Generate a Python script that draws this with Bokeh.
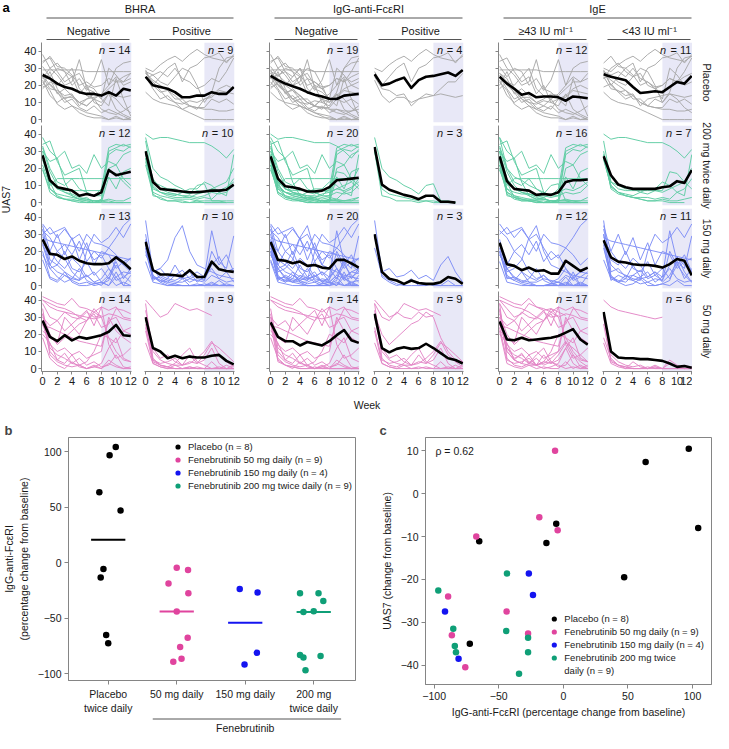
import math
import numpy as np
from bokeh.plotting import figure
from bokeh.layouts import row, column
from bokeh.models import (Range1d, LinearAxis, FixedTicker, BoxAnnotation, Label,
                          Legend, LegendItem)
from bokeh.core.properties import value
from bokeh.embed import file_html
from bokeh.resources import INLINE

NaN = float("nan")
FONT = "Liberation Sans"

# ---------------------------------------------------------------- data, panel a
weeks = list(range(13))
arm_names = ["Placebo", "200 mg twice daily", "150 mg daily", "50 mg daily"]
group_names = ["BHRA", "IgG-anti-FcεRI", "IgE"]
subgroup_names = ["Negative", "Positive", "Negative", "Positive", "≥43 IU ml⁻¹", "<43 IU ml⁻¹"]
subgroup_keys = ["N", "P", "N", "P", "H", "L"]   # membership letter per column
n_counts = [[14, 9, 19, 4, 12, 11],
            [12, 10, 20, 3, 16, 7],
            [13, 10, 20, 3, 12, 11],
            [14, 9, 14, 9, 17, 6]]

# membership: BHRA (N/P/-), IgG-anti-FceRI (N/P), IgE (H = >=43, L = <43); weekly UAS7 wk 0..12
placebo_patients = [
    ("PPL", [30, 28, 32, 35, 37, 34, 38, 41, 38, 36, 35, 34, 37]),
    ("PPL", [28, 20, 25, 30, 33, 22, 30, 32, 36, 37, 39, 33, 38]),
    ("NPL", [25, 18, 17, 14, 15, 8, 12, 13, 14, 15, 14, 13, 14]),
    ("NPH", [23, 14, 10, 13, 13, 10, 12, 15, 14, 18, 22, 22, 27]),
    ("NNH", [29, 29, 29, 29, 29, 29, 28, 28, 28, 28, 28, 28, 28]),
    ("NNH", [38, 30, 26, 20, 22, 35, 18, 16, 12, 8, 24, 12, 2]),
    ("NNH", [34, 36, 28, 22, 25, 15, 20, 10, 8, 15, 6, 3, 1]),
    ("NNH", [20, 28, 18, 12, 8, 6, 4, 3, 2, 0, 2, 0, 0]),
    ("NNH", [22, 17, 9, 6, 8, 4, 2, 1, 1, 0, 1, 0, 1]),
    ("NNH", [31, 25, 30, 28, 20, 24, 17, 23, 35, 20, 30, 33, 34]),
    ("NNH", [18, 22, 20, 25, 30, 18, 14, 12, 15, 20, 25, 22, 24]),
    ("NNH", [27, 24, 15, 18, 14, 10, 8, 12, 6, 4, 3, 5, 8]),
    ("NNL", [33, 37, 31, 30, 26, 20, 22, 19, 20, 24, 22, 25, 27]),
    ("NNH", [26, 20, 16, 10, 12, 7, 5, 8, 4, 6, 4, 2, 0]),
    ("NNL", [24, 30, 33, 28, 25, 27, 20, 18, 12, 30, 26, 20, 22]),
    ("NNL", [19, 21, 16, 12, 14, 10, 8, 12, 10, 15, 12, 7, 4]),
    ("PNL", [28, 26, 22, 20, 25, 30, 28, 20, 10, 16, 30, 36, 37]),
    ("PNL", [27, 23, 20, 17, 14, 10, 8, 7, 6, 6, 5, 5, 6]),
    ("PNL", [16, 12, 10, 9, 8, 6, 4, 2, 0, 0, 0, 0, 0]),
    ("PNL", [24, 26, 28, 25, 30, 24, 22, 18, 20, 24, 22, 28, 36]),
    ("PNH", [27, 22, 17, 12, 10, 9, 11, 10, 12, 14, 18, 20, 18]),
    ("PNL", [29, 20, 16, 17, 12, 12, 8, 7, 7, 12, 10, 12, 9]),
    ("PNH", [25, 18, 12, 14, 10, 6, 8, 6, 12, 13, 17, 16, 15]),
]
bid200_patients = [
    ("PNL", [40, 37, 38, 38, 37, 36, 35, 35, 35, 33, 30, 26, 31]),
    ("PPH", [38, 20, 15, 13, 10, 8, 5, 10, 11, 1, 1, 0, NaN]),
    ("NPL", [30, 8, 5, 4, 3, 2, 1, 1, 1, 0, 0, 0, NaN]),
    ("PPH", [30, 4, 3, 1, 1, 1, 0, 1, 0, 0, 0, 0, NaN]),
    ("NNH", [27, 14, 8, 6, 4, 2, 3, 0, 2, 28, 31, 30, 33]),
    ("NNH", [33, 20, 12, 10, 14, 8, 6, 4, 8, 32, 34, 33, 34]),
    ("NNH", [25, 12, 3, 2, 1, 0, 0, 0, 0, 15, 8, 18, 20]),
    ("NNH", [38, 30, 26, 30, 20, 22, 17, 28, 20, 24, 22, 14, 10]),
    ("NNH", [22, 10, 14, 14, 14, 14, 14, 14, 14, 14, 14, 14, 14]),
    ("NNL", [28, 12, 8, 7, 7, 7, 7, 7, 7, 18, 17, 12, 8]),
    ("NNH", [20, 6, 3, 2, 1, 1, 0, 0, 0, 0, 0, 0, 0]),
    ("NNH", [32, 18, 10, 6, 5, 3, 2, 1, 1, 2, 1, 1, 3]),
    ("NNH", [19, 8, 4, 2, 2, 1, 1, 0, 1, 1, 0, 0, 0]),
    ("PNH", [26, 8, 6, 5, 5, 4, 4, 3, 4, 6, 5, 6, 10]),
    ("PNL", [28, 10, 6, 5, 4, 6, 8, 8, 12, 10, 6, 8, 14]),
    ("PNH", [24, 6, 4, 3, 2, 2, 2, 1, 1, 1, 1, 1, 1]),
    ("PNH", [30, 14, 8, 6, 5, 4, 3, 5, 6, 8, 7, 9, 12]),
    ("PNL", [36, 12, 10, 8, 8, 6, 5, 7, 6, 8, 10, 12, 20]),
    ("PNH", [22, 5, 2, 1, 1, 0, 0, 0, 0, 0, 0, 0, 0]),
    ("PNL", [26, 9, 6, 4, 3, 3, 3, 2, 3, 2, 6, 4, 28]),
    ("NNH", [34, 36, 24, 16, 18, 20, 6, 4, 4, 30, 32, 34, 32]),
    ("NNH", [30, 24, 26, 12, 4, 2, 2, 1, 1, 20, 22, 28, 30]),
    ("-NL", [25, 10, 6, 4, 3, 2, 1, 1, 2, 1, 1, 2, 3]),
]
qd150_patients = [
    ("PPL", [38, 8, 10, 5, 6, 9, 4, 6, 3, 12, 17, 8, 2]),
    ("PPH", [22, 6, 3, 1, 0, 0, 0, 1, 0, 0, 0, 0, 0]),
    ("PPL", [30, 5, 2, 0, 1, 4, 0, 0, 1, 0, 3, 0, 0]),
    ("NNH", [36, 30, 32, 34, 27, 20, 30, 25, 24, 22, 28, 35, 39]),
    ("NNH", [30, 34, 28, 33, 27, 30, 22, 15, 18, 10, 5, 8, 7]),
    ("NNL", [26, 20, 30, 18, 28, 15, 25, 12, 20, 18, 10, 14, 16]),
    ("NNH", [24, 10, 5, 2, 4, 10, 3, 1, 2, 0, 8, 0, 6]),
    ("NNL", [33, 15, 12, 20, 10, 8, 14, 6, 10, 4, 12, 6, 2]),
    ("NNH", [20, 5, 3, 8, 2, 0, 0, 1, 2, 0, 5, 0, 0]),
    ("NNL", [28, 26, 25, 24, 23, 22, 21, 20, 19, 18, 17, 16, 15]),
    ("NNH", [18, 10, 12, 8, 5, 3, 6, 2, 4, 10, 3, 5, 8]),
    ("NNL", [35, 20, 14, 10, 16, 12, 5, 8, 2, 6, 14, 4, 10]),
    ("NNH", [25, 12, 20, 16, 8, 4, 6, 2, 0, 5, 0, 2, 0]),
    ("NNL", [15, 4, 2, 6, 3, 1, 2, 0, 1, 3, 16, 12, 8]),
    ("PNH", [27, 8, 10, 15, 28, 35, 20, 12, 10, 8, 6, 5, 4]),
    ("PNL", [24, 3, 6, 4, 12, 5, 8, 2, 5, 32, 14, 10, 29]),
    ("PNH", [18, 10, 4, 2, 1, 0, 0, 0, 0, 2, 0, 1, 0]),
    ("PNL", [26, 6, 2, 4, 3, 5, 2, 4, 3, 20, 12, 18, 8]),
    ("PNH", [20, 4, 5, 3, 2, 2, 4, 3, 2, 6, 4, 8, 10]),
    ("NNL", [30, 12, 8, 6, 4, 3, 20, 30, 25, 28, 34, 28, 36]),
    ("PNH", [14, 2, 1, 0, 0, 0, 0, 0, 0, 1, 0, 0, 0]),
    ("PNL", [22, 5, 3, 2, 6, 4, 5, 8, 5, 10, 4, 2, 3]),
    ("NNH", [32, 28, 20, 24, 18, 26, 14, 20, 16, 22, 18, 12, 16]),
]
qd50_patients = [
    ("NNH", [42, 40, 38, 37, 41, 36, 35, 33, 36, 34, 36, 30, 29]),
    ("NNH", [40, 38, 36, 35, 33, 30, 28, 35, 30, 32, 31, 29, 28]),
    ("NPH", [38, 30, 28, 33, 30, 29, 33, 30, 31, NaN, NaN, NaN, NaN]),
    ("NNH", [22, 18, 15, 30, 25, 20, 28, 32, 24, 26, 35, 34, 32]),
    ("NNH", [28, 10, 5, 3, 8, 2, 0, 1, 3, 12, 18, 6, 4]),
    ("NNH", [25, 24, 22, 20, 18, 16, 15, 14, 13, 28, 30, 22, 20]),
    ("NNL", [18, 6, 2, 0, 4, 1, 0, 2, 0, 5, 2, 0, 1]),
    ("NPH", [32, 20, 14, 18, 22, 26, 28, 33, 30, 18, 10, 5, 4]),
    ("NNH", [35, 12, 8, 6, 3, 2, 4, 10, 20, 18, 15, 22, 24]),
    ("NNH", [20, 15, 5, 9, 3, 6, 2, 4, 1, 2, 8, 1, 0]),
    ("PPL", [15, 3, 1, 0, 0, 0, 0, 1, 0, 0, 0, 0, 0]),
    ("NNH", [30, 25, 28, 22, 26, 30, 34, 25, 36, 14, 6, 8, 12]),
    ("NNH", [26, 14, 10, 12, 8, 10, 6, 8, 10, 30, 22, 18, 15]),
    ("PPH", [24, 5, 3, 4, 6, 2, 8, 3, 5, 12, 3, 0, 2]),
    ("PPH", [40, 35, 30, 32, 38, 36, 34, 35, 33, 31, NaN, NaN, NaN]),
    ("NNL", [40, 36, 34, 33, 32, 31, 30, 29, 30, NaN, NaN, NaN, NaN]),
    ("PPH", [30, 10, 5, 3, 2, 2, 4, 3, 8, 15, 12, 8, 4]),
    ("PNL", [26, 4, 2, 1, 0, 0, 1, 0, 0, 0, 0, 0, 0]),
    ("PPH", [38, 6, 2, 1, 3, 8, 12, 4, 2, 0, 1, 0, 0]),
    ("NNL", [32, 8, 4, 2, 1, 2, 0, 1, 0, 3, 1, 0, 0]),
    ("PPH", [34, 12, 6, 8, 4, 2, 3, 6, 10, 16, 8, 4, 1]),
    ("PNL", [30, 5, 2, 1, 0, 0, 0, 0, 0, 0, 0, 0, 0]),
    ("PPH", [22, 3, 1, 0, 2, 0, 1, 0, 0, 4, 0, 2, 0]),
]
patients = [placebo_patients, bid200_patients, qd150_patients, qd50_patients]

# mean UAS7 per arm (rows) and subgroup (columns), weeks 0..12
mean_uas7 = [
    [[26, 24, 21, 19, 18, 16, 15, 15, 14, 16, 14, 18, 17],
     [25, 20, 19, 18, 16, 13, 13, 14, 14, 16, 15, 15, 19],
     [25.5, 23, 21, 19.5, 18, 16, 14.5, 13.5, 12.2, 12, 14, 14.5, 15],
     [26.5, 20, 21, 23, 24.5, 18.5, 23, 25, 25.5, 26.5, 27.5, 25.5, 29],
     [25, 21, 18, 14.5, 15.5, 13, 13.5, 13.5, 13, 11, 13.5, 13, 12.5],
     [26.5, 25, 24, 23, 19, 15.5, 16, 16.5, 16, 19, 22, 21, 25.5]],
    [[27.5, 13, 9, 8, 7, 4, 5, 4, 6, 19, 16, 17, 18],
     [30, 12, 8, 7.5, 7, 6.5, 6, 6, 6.5, 7, 7, 7.5, 10.5],
     [27, 14, 9.5, 9, 8, 6.5, 6.5, 7, 9, 13, 13.5, 14, 14.5],
     [32.5, 10.5, 7.5, 6, 4.5, 3.5, 2, 4, 4, 0.5, 0.5, 0, NaN],
     [27, 12.5, 8, 7.5, 7, 4.5, 5, 4.5, 6, 12, 13, 13, 13.5],
     [27, 16, 10.5, 9, 8, 8, 8, 8, 9, 9.5, 12.5, 11.5, 19]],
    [[27, 18.5, 18, 15.5, 17, 14.5, 13, 12.5, 12.5, 13, 16.5, 13.5, 9.5],
     [25.5, 9, 6.5, 6.5, 6, 5.5, 9, 5, 5, 14, 9.5, 8.5, 8],
     [25.5, 15, 14.5, 13, 14, 11.5, 12, 10.5, 10, 15, 15, 13, 10.5],
     [30, 8, 4, 3, 1, 3, 1.5, 1, 1, 2, 5, 4, 1],
     [25, 12.5, 11.5, 9, 10.5, 8.5, 9, 7, 7, 14.5, 11.5, 8.5, 10.5],
     [26.5, 16.5, 14, 13.5, 12.5, 12, 12, 11.5, 10.5, 12.5, 15.5, 14.5, 6]],
    [[28, 18.5, 16, 19.5, 16.5, 18.5, 17.5, 18.5, 19.5, 21.5, 25.5, 19.5, 19],
     [30, 12, 10, 6, 7.5, 6, 7, 6.5, 6.5, 7.5, 8, 4.5, 2.5],
     [27, 18.5, 16, 16, 13.5, 15.5, 14.5, 13.5, 16, 19.5, 22.5, 16.5, 15],
     [32, 12, 9.5, 11.5, 12.5, 11.5, 12, 14.5, 12, 9, 6, 5, 3],
     [27.5, 17, 16.5, 18, 16.5, 17, 17.5, 18, 19, 21, 23, 17, 14],
     [33, 10, 6.5, 6, 6, 5.5, 5.5, 5, 4.5, 3, 1, 1.5, 0.5]],
]
uas7_ticks = [0, 10, 20, 30, 40]
week_ticks = [0, 2, 4, 6, 8, 10, 12]
shade_from_week = 8

# ---------------------------------------------------------------- data, panels b and c
bc_groups = ["Placebo (n = 8)", "Fenebrutinib 50 mg daily (n = 9)",
             "Fenebrutinib 150 mg daily (n = 4)", "Fenebrutinib 200 mg twice daily (n = 9)"]
bc_groups_c = ["Placebo (n = 8)", "Fenebrutinib 50 mg daily (n = 9)",
               "Fenebrutinib 150 mg daily (n = 4)", "Fenebrutinib 200 mg twice"]
bc_groups_c_cont = "daily (n = 9)"
b_categories = ["Placebo\ntwice daily", "50 mg daily", "150 mg daily", "200 mg\ntwice daily"]
igg_change = [
    [104.4, 97.1, 63.7, 47.1, -5.5, -13.1, -65.1, -72.4],
    [-4.4, -6.4, -18.6, -27.3, -43.9, -67.4, -75.9, -86.3, -89.2],
    [-23.5, -26.7, -81.1, -91.6],
    [-27.3, -27.3, -34.3, -44.2, -43.6, -83.1, -85.2, -84.0, -96.8],
]
uas7_change = [
    [-8.0, 10.45, 7.4, -19.5, -7.0, -11.5, -11.1, -35.0],
    [-8.5, 10.0, -5.5, -32.6, -27.5, -10.0, -40.5, -33.0, -24.0],
    [-23.6, -18.6, -38.5, -27.5],
    [-33.6, -37.0, -42.0, -32.0, -18.6, -37.0, -31.5, -35.5, -22.6],
]
b_jitter = [
    [0.11, 0.02, -0.13, 0.18, -0.07, -0.11, -0.03, 0.0],
    [0.0, 0.165, -0.12, 0.17, 0.0, 0.16, 0.05, 0.07, -0.05],
    [-0.08, 0.18, 0.17, -0.01],
    [-0.20, 0.07, 0.14, -0.15, 0.0, -0.20, -0.15, 0.10, -0.12],
]
rho_text = "ρ = 0.62"
b_yticks = [-100, -50, 0, 50, 100]
c_xticks = [-100, -50, 0, 50, 100]
c_yticks = [-40, -30, -20, -10, 0, 10]

# ---------------------------------------------------------------- styles
LINE_COLORS = ["#A9A9A9", "#5FCCA3", "#7D8DF5", "#E386C6"]
POINT_COLORS = ["#000000", "#E0449E", "#1414F0", "#0F9F77"]
SHADE = "#E8E8F7"
AXIS_COL = "#858585"
TXT = "#1a1a1a"

FW, FH = 90, 80          # small-panel frame size
LB = [29, 7, 18, 7, 18, 7]
RB = [6, 17, 7, 17, 7, 0]
UW = 12                  # left strip (UAS7)
RW = 21                  # right strip (arm labels)
GAP = 3
XAXIS_H = 20
HEADER_H = 42
ROWS_H = 3 * (FH + GAP) + FH + XAXIS_H


def canvas(w, h, x_range=None, lb=0, rb=0):
    p = figure(width=w, height=h, x_range=x_range if x_range is not None else Range1d(0, w),
               y_range=Range1d(0, h), toolbar_location=None, output_backend="svg",
               x_axis_location=None, y_axis_location=None, outline_line_color=None,
               min_border_left=lb, min_border_right=rb, min_border_top=0, min_border_bottom=0)
    p.grid.visible = False
    return p


def char_w(s, size):
    widths = {" ": 0.278, "=": 0.584}
    return sum(widths.get(ch, 0.556) for ch in s) * size


def small_panel(r, c):
    bottom = XAXIS_H if r == 3 else GAP
    p = figure(width=LB[c] + FW + RB[c], height=FH + bottom,
               x_range=Range1d(-0.15, 12.1), y_range=Range1d(-1.7, 45.0),
               x_axis_location=None, y_axis_location=None,
               toolbar_location=None, output_backend="svg",
               min_border_left=LB[c], min_border_right=RB[c],
               min_border_top=0, min_border_bottom=bottom, outline_line_color=None)
    p.grid.visible = False
    p.add_layout(BoxAnnotation(left=shade_from_week, fill_color=SHADE, fill_alpha=1.0,
                               line_color=None, level="underlay"))
    key = subgroup_keys[c]
    ys = [np.array(v, dtype=float) for mem, v in patients[r] if mem[c // 2] == key]
    xs = [np.array(weeks, dtype=float)] * len(ys)
    p.multi_line(xs, ys, line_color=LINE_COLORS[r], line_width=1, line_alpha=0.95)
    p.line(np.array(weeks, dtype=float), np.array(mean_uas7[r][c], dtype=float),
           line_color="black", line_width=2.6, line_join="round")
    if c % 2 == 0:
        ya = LinearAxis(ticker=FixedTicker(ticks=uas7_ticks), axis_line_color=AXIS_COL,
                        major_tick_line_color=AXIS_COL, major_tick_in=0, major_tick_out=3,
                        minor_tick_line_color=None, major_label_text_font=FONT,
                        major_label_text_font_size="11px", major_label_text_color=TXT,
                        major_label_standoff=2)
        if c != 0:
            ya.major_label_overrides = {t: "" for t in uas7_ticks}
        p.add_layout(ya, "left")
    if r == 3:
        xa = LinearAxis(ticker=FixedTicker(ticks=week_ticks), axis_line_color=AXIS_COL,
                        major_tick_line_color=AXIS_COL, major_tick_in=0, major_tick_out=3,
                        minor_tick_line_color=None, major_label_text_font=FONT,
                        major_label_text_font_size="11px", major_label_text_color=TXT,
                        major_label_standoff=2)
        p.add_layout(xa, "below")
    n = n_counts[r][c]
    rest = f"= {n}"
    p.add_layout(Label(x=11.95, y=40.8, text=rest, text_align="right", text_baseline="middle",
                       text_font=FONT, text_font_size="11px", text_color=TXT))
    p.add_layout(Label(x=11.95, y=40.8, x_offset=-(char_w(" " + rest, 11) + 0.5), text="n",
                       text_align="right", text_baseline="middle", text_font=FONT,
                       text_font_style="italic", text_font_size="11px", text_color=TXT))
    return p


# frame positions (layout px) for the header
lefts = []
xpos = UW
for c in range(6):
    lefts.append(xpos + LB[c])
    xpos += LB[c] + FW + RB[c]
rights = [l + FW for l in lefts]
TOTAL_W = xpos + RW

# ---------------- header canvas
header = canvas(TOTAL_W, HEADER_H)
H = HEADER_H
header.text(x=[2], y=[H - 7], text=["a"], text_font=value(FONT), text_font_size="13px",
            text_font_style="bold", text_baseline="middle", text_align="left", text_color="black")
gx = [(lefts[2 * g] + rights[2 * g + 1]) / 2 + 2 for g in range(3)]
header.text(x=gx, y=[H - 8] * 3, text=group_names, text_font=value(FONT), text_font_size="11px",
            text_baseline="middle", text_align="center", text_color=TXT)
header.segment(x0=[lefts[2 * g] + 5 for g in range(3)], x1=[rights[2 * g + 1] - 1 for g in range(3)],
               y0=[H - 17.5] * 3, y1=[H - 17.5] * 3, line_color="#555555", line_width=1)
sx = [(l + r) / 2 + 2 for l, r in zip(lefts, rights)]
header.text(x=sx, y=[H - 30.5] * 6, text=subgroup_names, text_font=value(FONT), text_font_size="11px",
            text_baseline="middle", text_align="center", text_color=TXT)
header.segment(x0=[l + 5 for l in lefts], x1=[r - 2 for r in rights], y0=[H - 39] * 6, y1=[H - 39] * 6,
               line_color="#555555", line_width=1)

# ---------------- left strip (UAS7) and right strip (arm names)
left_strip = canvas(UW, ROWS_H)
left_strip.text(x=[5.5], y=[ROWS_H - 157], text=["UAS7"], angle=math.pi / 2, text_font=value(FONT),
                text_font_size="10.5px", text_align="center", text_baseline="middle", text_color=TXT)
right_strip = canvas(RW, ROWS_H)
right_strip.text(x=[14] * 4, y=[ROWS_H - (r * (FH + GAP) + FH / 2) for r in range(4)], text=arm_names,
                 angle=-math.pi / 2, text_font=value(FONT), text_font_size="10.5px",
                 text_align="center", text_baseline="middle", text_color=TXT)

grid_rows = []
for r in range(4):
    grid_rows.append(row(*[small_panel(r, c) for c in range(6)], spacing=0))
grid = column(*grid_rows, spacing=0)

# ---------------- Week strip
WEEK_H = 22
week_strip = canvas(TOTAL_W, WEEK_H)
week_strip.text(x=[(lefts[0] + rights[5]) / 2], y=[WEEK_H - 13], text=["Week"], text_font=value(FONT),
                text_font_size="10.5px", text_align="center", text_baseline="middle", text_color=TXT)


def style_axes(p):
    for ax in list(p.xaxis) + list(p.yaxis):
        ax.axis_line_color = AXIS_COL
        ax.major_tick_line_color = AXIS_COL
        ax.major_tick_in = 0
        ax.major_tick_out = 4
        ax.minor_tick_line_color = None
        ax.major_label_text_font = FONT
        ax.major_label_text_font_size = "10.5px"
        ax.major_label_text_color = TXT
        ax.major_label_standoff = 3
        ax.axis_label_text_font = FONT
        ax.axis_label_text_font_size = "10.5px"
        ax.axis_label_text_font_style = "normal"
        ax.axis_label_text_color = TXT


def minus(v):
    return ("−" + str(abs(v))) if v < 0 else str(v)


LEG_KW = dict(padding=2, spacing=-1, label_standoff=3, glyph_width=15, glyph_height=13,
              label_height=11, label_text_font=FONT, label_text_font_size="9.5px",
              label_text_color=TXT, border_line_color=None, background_fill_alpha=0)

# ---------------- panel b
B_LB, B_FW, B_RB = 66, 289, 5
B_TOP, B_FH, B_BOT = 24, 247, 32
pb = figure(width=B_LB + B_FW + B_RB, height=B_TOP + B_FH + B_BOT,
            x_range=Range1d(0.42, 4.61), y_range=Range1d(-106, 113),
            toolbar_location=None, output_backend="svg", title="b",
            min_border_left=B_LB, min_border_right=B_RB, min_border_top=B_TOP, min_border_bottom=B_BOT,
            outline_line_color=AXIS_COL)
pb.grid.visible = False
pb.title.text_font = FONT
pb.title.text_font_size = "13px"
pb.title.text_font_style = "bold"
pb.title.align = "left"
pb.title.offset = -B_LB + 2
pb.title.standoff = 0
style_axes(pb)
pb.xaxis.ticker = FixedTicker(ticks=[1, 2, 3, 4])
pb.xaxis.major_label_overrides = {i + 1: lab for i, lab in enumerate(b_categories)}
pb.yaxis.ticker = FixedTicker(ticks=b_yticks)
pb.yaxis.major_label_overrides = {t: minus(t) for t in b_yticks}
pb.yaxis.axis_label = "IgG-anti-FcεRI\n(percentage change from baseline)"
pb.yaxis.axis_label_standoff = 5
b_items = []
for g in range(4):
    xs = [g + 1 + j for j in b_jitter[g]]
    med = float(np.median(igg_change[g]))
    pb.segment(x0=[g + 1 - 0.25], x1=[g + 1 + 0.25], y0=[med], y1=[med],
               line_color=POINT_COLORS[g], line_width=2)
    rr = pb.scatter(xs, igg_change[g], size=6.5, fill_color=POINT_COLORS[g], line_color=None)
    b_items.append(LegendItem(label=bc_groups[g], renderers=[rr]))
leg_b = Legend(items=b_items, location="top_right", margin=3, **LEG_KW)
pb.add_layout(leg_b)

FOOT_H = 17
b_foot = canvas(B_LB + B_FW + B_RB, FOOT_H, x_range=pb.x_range, lb=B_LB, rb=B_RB)
b_foot.segment(x0=[2 - 0.35], x1=[4 + 0.4], y0=[FOOT_H - 2.5], y1=[FOOT_H - 2.5],
               line_color="#555555", line_width=1)
b_foot.text(x=[3.0], y=[FOOT_H - 11.5], text=["Fenebrutinib"], text_font=value(FONT),
            text_font_size="10.5px", text_align="center", text_baseline="middle", text_color=TXT)

# ---------------- panel c
C_LB, C_FW, C_RB = 65, 286, 2
C_BOT = 49
pc = figure(width=C_LB + C_FW + C_RB, height=B_TOP + B_FH + C_BOT,
            x_range=Range1d(-106.7, 114.7), y_range=Range1d(-44.5, 13.1),
            toolbar_location=None, output_backend="svg", title="c",
            min_border_left=C_LB, min_border_right=C_RB, min_border_top=B_TOP, min_border_bottom=C_BOT,
            outline_line_color=AXIS_COL)
pc.grid.visible = False
pc.title.text_font = FONT
pc.title.text_font_size = "13px"
pc.title.text_font_style = "bold"
pc.title.align = "left"
pc.title.offset = -46
pc.title.standoff = 0
style_axes(pc)
pc.xaxis.ticker = FixedTicker(ticks=c_xticks)
pc.xaxis.major_label_overrides = {t: minus(t) for t in c_xticks}
pc.yaxis.ticker = FixedTicker(ticks=c_yticks)
pc.yaxis.major_label_overrides = {t: minus(t) for t in c_yticks}
pc.xaxis.axis_label = "IgG-anti-FcεRI (percentage change from baseline)"
pc.yaxis.axis_label = "UAS7 (change from baseline)"
pc.xaxis.axis_label_standoff = 3
pc.yaxis.axis_label_standoff = 5
c_items = []
for g in range(4):
    rr = pc.scatter(igg_change[g], uas7_change[g], size=6.5, fill_color=POINT_COLORS[g], line_color=None)
    c_items.append(LegendItem(label=bc_groups_c[g], renderers=[rr]))
c_items.append(LegendItem(label=bc_groups_c_cont, renderers=[]))
leg_c = Legend(items=c_items, location="bottom_right", margin=7, **LEG_KW)
pc.add_layout(leg_c)
pc.add_layout(Label(x=-99, y=10, text=rho_text, text_align="left", text_baseline="middle",
                    text_font=FONT, text_font_size="10.5px", text_color=TXT))

layout = column(
    header,
    row(left_strip, grid, right_strip, spacing=0),
    week_strip,
    row(column(pb, b_foot, spacing=0), pc, spacing=0),
    spacing=0,
)

with open("out.html", "w") as f:
    f.write(file_html(layout, INLINE, title="UAS7 and IgG-anti-FcεRI"))
